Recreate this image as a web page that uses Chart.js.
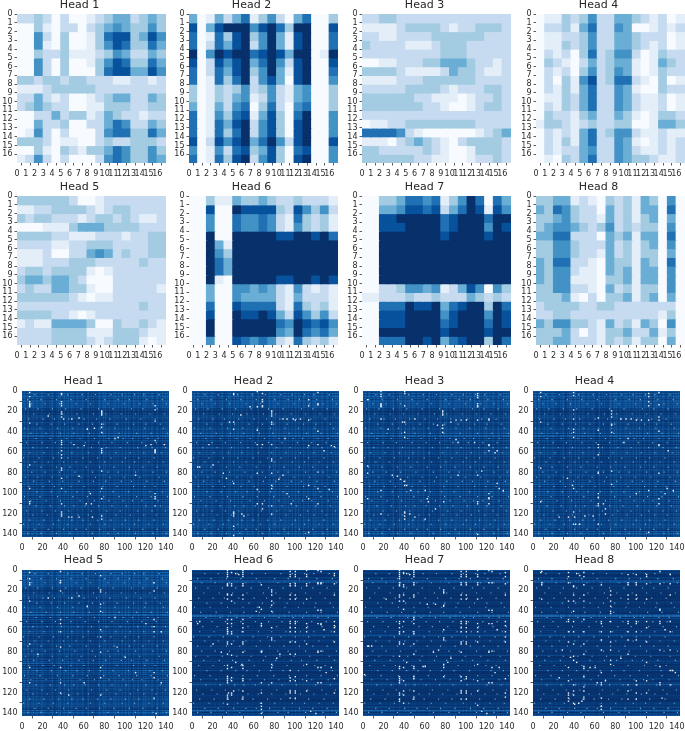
<!DOCTYPE html>
<html><head><meta charset="utf-8">
<script src="https://cdn.jsdelivr.net/npm/chart.js@4"></script>
<style>
html,body{margin:0;padding:0;background:#fff;overflow:hidden;width:685px;height:731px}
canvas{position:absolute;filter:blur(0.35px)}
</style></head><body>
<script>
// ---------- shared tick labels and titles ----------
const topTicks = [0,1,2,3,4,5,6,7,8,9,10,11,12,13,14,15,16];
const bottomTicks = [0,20,40,60,80,100,120,140];
const headNames = ['Head 1','Head 2','Head 3','Head 4','Head 5','Head 6','Head 7','Head 8'];

// ---------- 17 x 17 attention maps: rows of shade levels 0 (palest) to 8 (darkest), one per cell ----------
const head1 = ['22320200123442343','00310220234543353','00520300136773475','00510300135763364','00322311123542243','00520300135763364','00520300036774475','33233233222112212','11123333322222222','22421200123442243','23432200113332233','00224233124322122','00422300224652243','01520200025663364','33320110023223332','00310321334653353','12520200025653354'];
const head2 = ['40142461352046003','70478885786388007','60163783584178006','60264782584178006','80587886787488018','70275784685278007','60264783584178006','60163682574078005','30132352352145003','30132451252145003','40142560362056003','60153671473068005','60164782573078005','60163682573078005','70275784685278007','50152673473067005','60163782573078005'];
const head3 = ['22332222222222222','11112333321223332','22112222333333222','32222111233322222','22222222233322222','00112223344432212','33332111124332112','11112223333332222','22222333321222332','33333322111012232','33333332210012332','22222222222222222','01122333333332222','66665210000001234','11102343210233332','33222223210013332','33333322110012232'];
const head4 = ['01132352244321201','02231462254001212','01122352244322201','01132352244321201','02120362355201322','03210242344101432','02120352354101322','02031572366210301','02131462254100322','01132462254211201','02132462254211201','03221342243101332','13321232233001443','02121462355211211','02131462254101212','02122452254211212','01032462254332112'];
const head5 = ['33333320012222222','11223333212332222','32332221233232112','00011134443333222','33332211122212233','22221122333222233','11120022454232233','11122233322222322','23323333101222222','34434432000222222','23224433100222221','33333321011222222','22222222222222322','33332210122222222','12114444300322321','22223333111333211','22223333212333101'];
const head6 = ['00311433432232221','00700877773275352','00500655652163231','00500655652153231','00800888887788786','00841888888888888','00853888888888888','00864888888888888','00864888888888888','00810888887788787','00400554542152121','00400544442142221','00600766662163231','00700877874275352','00800888886587675','00800888885486564','00500765652163231'];
const head7 = ['00334665613586064','00445776724687175','00778888867888688','00777888867888587','00888888878888788','00888888888888888','00888888888888888','00888888888888888','00888888888888888','00888888888888888','00223554512475053','11222322322243232','00666877846788386','00777888857888587','00777888867888687','00888888878888788','00666887846788386'];
const head8 = ['33441210323143050','43653220423144060','33453221423134040','34554323523233050','44662220434144060','33553222423134050','33553221423133040','43662210433143060','43552110434144050','43551110334144050','33552210423133050','33341020334134040','23333223322222220','22332222222222130','43553321423143050','33342021334224130','33442221323133040'];
const topHeads = [head1,head2,head3,head4,head5,head6,head7,head8];
const blues = ['#f7fbff','#e3eef9','#c6dbef','#a3cce3','#6aaed6','#4292c6','#2070b4','#08519c','#08306b'];

// ---------- 143 x 143 maps: row shade, column shade (estimated per row / column) ----------
const rowsHeads1to5 = '2131232313'+'3232323121'+'0120313120'+'3120212312'+'1303302021'+'1020132021'+'3130210203'+'1032120312'+'0231201302'+'1302012031'+'2130213031'+'2032303120'+'3120313212'+'2313120313'+'212';
const rowsHeads6to8 = '2011000210'+'3330011011'+'0100100010'+'0201000201'+'1002440201'+'0100100102'+'0102310012'+'0100120200'+'1003000102'+'0100101020'+'0010102100'+'2140201010'+'0102010001'+'1201301420'+'213';
const colsHeads1to5 = '3232133212'+'2312321223'+'2120102123'+'1002132311'+'2312230232'+'2103212032'+'1002310202'+'1010232123'+'2321230213'+'2303212302'+'3213220132'+'2123120232'+'3213023210'+'2320213223'+'232';
const colsHeads6to8 = '2121121121'+'1211211221'+'1120102112'+'1000121111'+'1211210121'+'2101201021'+'1001210101'+'1010121112'+'1211120112'+'2102101201'+'2101210121'+'1112110121'+'2102012101'+'2120112112'+'121';
const rowColors = ['#08306b','#08407f','#0a4f99','#1361ab','#2171b5'];
const colColors = ['rgba(8,48,107,.85)','rgba(8,48,107,.55)','rgba(8,48,107,0)','rgba(66,146,198,.3)'];

// ---------- pale cells scattered through the 143 x 143 maps: [row, [columns...]] ----------
const paleCells = [[3,[12,25,44,58,71,86,97,109,118,133]],[8,[5,18,33,47,62,80,93,104,121,136]],[12,[9,22,36,52,66,83,99,114,127,140]],[17,[3,15,29,42,57,74,88,106,117,131]],[22,[11,26,39,53,69,81,96,110,124,138]],[27,[6,20,31,45,60,72,85,101,115,129]],[32,[14,28,41,55,68,79,92,108,120,134]],[36,[2,17,34,49,63,76,90,103,119,137]],[41,[8,23,37,50,65,78,94,111,125,141]],[46,[13,27,43,56,70,84,98,107,122,132]],[50,[4,19,32,47,61,74,87,102,116,130]],[55,[10,24,38,54,67,82,95,112,126,139]],[60,[7,21,35,48,64,77,91,105,118,135]],[65,[1,16,30,44,59,73,86,100,113,128]],[69,[12,25,40,52,66,80,97,109,123,137]],[74,[5,18,33,46,62,75,89,104,117,131]],[79,[9,22,36,51,68,83,93,110,127,140]],[84,[3,15,29,43,57,71,85,99,114,133]],[88,[11,26,39,55,69,81,96,106,121,138]],[93,[6,20,31,47,60,78,92,108,119,129]],[98,[14,28,42,53,65,76,88,103,124,136]],[103,[2,17,34,49,63,79,94,111,125,141]],[107,[8,23,37,56,70,84,98,107,116,132]],[112,[13,27,41,50,61,74,87,101,120,134]],[117,[4,19,32,45,67,82,95,112,126,139]],[121,[10,24,38,54,64,77,91,105,118,130]],[126,[7,21,35,48,59,73,86,100,113,128]],[130,[1,16,30,44,66,80,97,109,123,137]],[135,[12,25,40,52,62,75,89,104,117,131]],[139,[5,18,33,46,68,83,93,110,127,140]]];

// ---------- white cells in the 143 x 143 maps: [column, [rows...]] and loose [column, row] ----------
const specks1 = [[7,[1,5,10,12,13,14,15,31,72,95,108,110]],[38,[2,3,10,12,14,20,22,25,48,50,52,58,62,65,75,77,85,95,110,120,122]],[77,[19,20,21,22,23,32,35,40,56,58,60,78,95,105,122,125]],[129,[14,18,29,48,57,58,59,60,100,103,105,112]]];
const loose1 = [[25,24],[40,27],[48,27],[55,26],[63,37],[70,36],[90,46],[93,45],[50,52],[60,53],[120,53],[125,52],[138,52],[110,82],[55,83],[45,123],[48,123],[55,123],[68,123],[38,118],[62,110],[67,110],[66,100]];
const specks2 = [[40,[2,3,30,37,90,118,119,120,122,132,141]],[63,[0,15,38,52,80,96,110]],[68,[2,8,10,14,15,52,110,115]],[77,[19,20,22,24,30,32,52,66,68,80,92,95,112,120]],[113,[8,14,28,53,92,105,138]],[122,[1,12,13,39,52,79,95,110]]];
const loose2 = [[47,23],[56,15],[16,52],[135,53],[138,54],[128,58],[133,96],[88,27],[92,27],[98,27],[100,28],[105,27],[90,46],[36,30],[30,80],[33,85],[20,72],[7,74],[5,74],[88,82],[84,86],[92,100],[96,110],[50,122],[48,120]];
const specks3 = [[17,[0,3,5,12,13,14,15,27,97,120]],[4,[8,73,80,105]],[40,[0,2,14,30,40,45,88,92,118,119,122,125]],[77,[19,20,22,23,33,36,40]],[111,[2,4,6,12,14,15,28,82,108,110,140]],[122,[27,28,52,53,58,100,104,105,110]]];
const loose3 = [[72,33],[63,108],[62,105],[90,47],[92,50],[92,82],[108,50],[130,58],[128,60],[132,95],[136,97],[130,90],[60,97],[50,27],[38,30],[24,37],[28,82],[33,83],[36,86],[42,92],[46,97],[85,30],[90,28],[95,28],[100,28],[115,78],[45,120],[50,123],[60,125],[70,115],[78,108]];
const specks4 = [[7,[1,5,30,75,108]],[39,[1,4,18,27,37,40,45,95,118,130]],[63,[26,38,52,55,62,79,80,100,104,110,112,130]],[76,[19,22,25,32,33,40,78,91]],[112,[2,5,10,14,28,97,138]],[122,[1,13,25,28,39,52,53,80,105,110]]];
const loose4 = [[33,85],[38,92],[40,123],[25,123],[34,123],[50,122],[58,122],[70,120],[100,100],[130,95],[136,97],[131,58],[128,100],[85,27],[90,27],[95,27],[100,28],[105,28],[92,46],[88,50],[70,115],[68,110],[45,130],[41,130]];
const specks5 = [[7,[2,8,12,14,30,72,95,110]],[37,[1,10,12,20,48,52,60,75,95,110,120]],[76,[5,19,21,33,40,58,65,80,95,105,122]],[128,[12,20,48,55,60,100,105,125]]];
const loose5 = [[55,25],[48,27],[63,35],[90,46],[120,52],[45,122],[60,110],[15,82],[25,27],[92,75],[100,85],[110,100],[135,60],[135,110],[130,140]];
const specks6 = [[34,[0,2,4,6,13,14,15,23,24,28,48,52,56,58,60,62,70,72,82,93,96,104,106,108,110,122,124,126,131]],[38,[2,13,15,24,30,48,52,60,62,72,83,95,105,108,120,122]],[49,[0,2,4,6,13,15,24,28,48,52,56,60,70,72,80,93,96,106,108,118,124,126]],[67,[14,38,52,54,79,80,110,120,130,133,136,140]],[77,[19,21,24,30,34,40,56,66,68,92,95,110]],[95,[1,4,6,13,15,24,28,50,52,56,60,70,82,98,105,108,118,120,125]],[100,[1,4,6,13,15,24,28,50,52,56,60,70,82,104,108,118,120,125]],[111,[0,4,6,13,15,28,52,56,60,72,92,108,118]],[122,[0,12,13,39,52,79,80,95,110]],[125,[1,12,13,39,52,53,79,95,110]],[138,[3,5,13,24,50,54,56,60,70,106,120]]];
const loose6 = [[5,52],[7,50],[20,72],[28,80],[42,3],[45,4],[42,90],[62,40],[65,36],[85,82],[82,86],[115,138],[120,140],[128,58],[135,95],[130,100],[35,120],[40,118],[48,92]];
const specks7 = [[35,[0,2,4,6,8,12,14,15,24,26,30,50,52,56,60,62,70,72,84,94,96,104,106,108,110,120,122,126,128]],[39,[2,3,14,16,24,30,38,50,60,72,95,108,118,122,130]],[49,[0,2,4,6,12,14,24,26,46,48,52,60,62,72,82,94,96,104,106,118,124,126]],[78,[19,21,22,34,35,58,66,68,92,95,104]],[95,[1,4,6,12,14,24,28,50,52,56,60,70,72,80,104,108,118,120,126]],[100,[1,4,6,12,14,24,28,50,52,56,60,70,72,104,106,118,120,126]],[111,[0,4,6,12,14,28,52,56,60,70,92,108,118,132]],[122,[0,12,39,52,79,80,110]],[125,[1,12,39,52,79,95,110]],[138,[2,6,13,24,50,54,60,65,70,106,120,124]]];
const loose7 = [[5,74],[4,74],[8,74],[42,3],[45,4],[60,94],[58,94],[42,90],[85,86],[82,90],[68,80],[73,78],[130,58],[128,100],[132,95],[1,102],[115,138],[120,140],[22,28],[62,33],[70,33]];
const specks8 = [[8,[1,12,14,28]],[34,[2,6,12,30,48,50,60,70,95,108,120,122,125,128]],[39,[15,16,24,30,40,50,60,72,84,88,112,118,122,130]],[49,[2,6,14,24,30,48,60,72,82,94,96,104,114,118,124,126]],[66,[14,50,52,60,68,78,100,110,112,125,133,136]],[75,[20,24,30,35,40,42,50,60,70,78,88,92]],[92,[4,12,14,24,28,50,52,60,68,82,112,118,126]],[100,[4,12,14,24,28,50,52,60,68,108,112,120,126]],[110,[4,6,13,28,50,56,70,90,108,120]],[123,[1,13,38,39,50,52,78,94,110,112]],[133,[4,13,24,50,60,78,98,112]]];
const loose8 = [[7,2],[42,3],[45,5],[55,95],[60,95],[85,86],[28,78],[36,85],[42,90],[135,98],[138,100],[128,58],[25,105],[44,130],[47,128],[40,131],[66,133],[70,108],[62,110],[125,125]];
const columnSpecks = [specks1,specks2,specks3,specks4,specks5,specks6,specks7,specks8];
const looseSpecks = [loose1,loose2,loose3,loose4,loose5,loose6,loose7,loose8];

// ---------- page layout ----------
const SIDE = 24, AXIS_H = 20, TITLE_H = 13.2;
const layouts = [
  {xs:[17,189,362,536], top:14,  w:149, h:149, titleBox:15},
  {xs:[17,189,362,536], top:196, w:149, h:149, titleBox:15},
  {xs:[22,192,363,533], top:391, w:147, h:146, titleBox:16.5},
  {xs:[22,192,363,533], top:570, w:147, h:146, titleBox:16.5}
];

function axis(kind, max, ticks, reverse){
  return {
    type:'linear', min:0, max, reverse, offset:false,
    border:{display:false},
    grid:{drawOnChartArea:false, drawTicks:true, tickLength:2.5, tickColor:'#333', tickWidth:0.8},
    ticks:{autoSkip:false, maxRotation:0, minRotation:0, padding: kind==='x'?4:2, color:'#2a2a2a',
           font:{family:'DejaVu Sans', size:8}},
    afterBuildTicks(s){ s.ticks = ticks.map(v=>({value:v})); },
    afterFit(s){
      s.paddingLeft=s.paddingRight=s.paddingTop=s.paddingBottom=0;
      if(kind==='x') s.height=AXIS_H; else s.width=SIDE;
    }
  };
}

const plotFill = {
  id:'plotFill',
  beforeDatasetsDraw(chart,args,opts){
    if(!opts.color) return;
    const a = chart.chartArea;
    chart.ctx.save(); chart.ctx.fillStyle = opts.color;
    chart.ctx.fillRect(a.left,a.top,a.width,a.height); chart.ctx.restore();
  }
};

function makeChart(title, box, datasets, max, ticks, fill){
  const boxH = Math.ceil(box.titleBox);
  const c = document.createElement('canvas');
  c.width = SIDE+box.w+SIDE; c.height = boxH+box.h+AXIS_H;
  c.style.left = (box.x-SIDE)+'px'; c.style.top = (box.top-boxH)+'px';
  c.style.width = c.width+'px'; c.style.height = c.height+'px';
  document.body.appendChild(c);
  new Chart(c,{
    type:'bar',
    data:{datasets},
    plugins:[plotFill],
    options:{
      responsive:false, animation:false, events:[],
      layout:{padding:{left:0,top:0,bottom:0,right:SIDE}},
      scales:{x:axis('x',max,ticks,false), y:axis('y',max,ticks,true)},
      plugins:{
        legend:{display:false}, tooltip:{enabled:false},
        plotFill:{color:fill},
        title:{display:true, text:title, color:'#262626', padding:{top:boxH-box.titleBox,bottom:box.titleBox-TITLE_H},
               font:{family:'DejaVu Sans', size:11, weight:'normal'}}
      }
    }
  });
}

const barBase = {grouped:false, barPercentage:1, categoryPercentage:1, borderWidth:0};

headNames.forEach((name,h)=>{
  // top block: 17 x 17 cells
  const L = layouts[h<4?0:1], col = h%4;
  const rows = topHeads[h];
  const ds = rows.map((str,r)=>({
    ...barBase, inflateAmount:0.6,
    data:[...str].map((_,i)=>({x:i+0.5,y:[r,r+1]})),
    backgroundColor:[...str].map(d=>blues[+d])
  }));
  makeChart(name,{x:L.xs[col],top:L.top,w:L.w,h:L.h,titleBox:L.titleBox},ds,17,topTicks,null);
});

headNames.forEach((name,h)=>{
  // bottom block: 143 x 143, row bands, column bands, pale and white cells
  const L = layouts[h<4?2:3], col = h%4;
  const rowStr = h<5 ? rowsHeads1to5 : rowsHeads6to8;
  const colStr = h<5 ? colsHeads1to5 : colsHeads6to8;
  const pts = [], pale = [];
  columnSpecks[h].forEach(([x,ys])=>ys.forEach(y=>pts.push({x:x+0.5,y:y+0.5})));
  looseSpecks[h].forEach(([x,y])=>pts.push({x:x+0.5,y:y+0.5}));
  paleCells.forEach(([y,xs])=>xs.forEach(x=>pale.push({x:x+0.5,y:y+0.5})));
  const ds = [
    {type:'scatter', data:pts, pointStyle:'rect', pointRadius:1, pointBorderWidth:0,
     pointBackgroundColor:'#eaf2fb', showLine:false},
    {type:'scatter', data:pale, pointStyle:'rect', pointRadius:0.8, pointBorderWidth:0,
     pointBackgroundColor:'#6aaed6', showLine:false},
    {...barBase, inflateAmount:0, indexAxis:'x', data:[...colStr].map((_,i)=>({x:i+0.5,y:[0,143]})),
     backgroundColor:[...colStr].map(d=>colColors[+d])},
    {...barBase, inflateAmount:0.25, indexAxis:'y', data:[...rowStr].map((_,r)=>({y:r+0.5,x:[0,143]})),
     backgroundColor:[...rowStr].map(d=>rowColors[+d])}
  ];
  makeChart(name,{x:L.xs[col],top:L.top,w:L.w,h:L.h,titleBox:L.titleBox},ds,143,bottomTicks,'#08306b');
});
</script>
</body></html>
